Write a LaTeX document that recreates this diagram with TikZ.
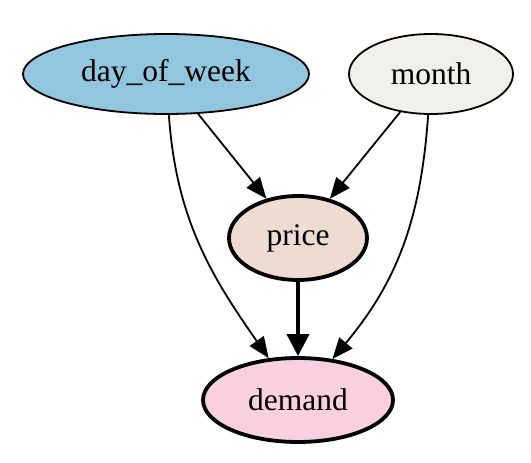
\documentclass[tikz,border=0pt]{standalone}
\usepackage{fontspec}
\setmainfont{Liberation Serif}
\usetikzlibrary{shapes.geometric,arrows.meta}

\definecolor{dowblue}{HTML}{92C5DE}
\definecolor{monthgrey}{HTML}{F0EFEB}
\definecolor{pricetan}{HTML}{EEDBD2}
\definecolor{demandpink}{HTML}{F9D0DF}

\tikzset{node:style/.style={draw,shape=ellipse,line width=1.8pt,inner sep=0pt,minimum height=80pt}}
\tikzset{node:bold/.style={node:style,line width=3.8pt,minimum height=84pt}}
\tikzset{edge:style/.style={draw,line width=1.8pt,-{Triangle[length=21pt,width=17pt]}}}
\tikzset{edge:bold/.style={draw,line width=3.8pt,-{Triangle[length=22pt,width=22pt]}}}
\def\nodetext{\fontsize{31.5}{37}\selectfont}

\begin{document}
\begin{tikzpicture}[x=1pt,y=-1pt]
	
	\useasboundingbox (0,0) rectangle (531,463);
	
	\path 
		(166,74) coordinate (cdow)
		(431,74) coordinate (cmonth)
		(298,238) coordinate (cprice)
		(298,400) coordinate (cdemand);
	
	\path (cdow) node[node:style,fill=dowblue,minimum width=286pt] (dow) {\nodetext day\_of\_week};
	\path (cmonth) node[node:style,fill=monthgrey,minimum width=164pt] (month) {\nodetext month};
	\path (cprice) node[node:bold,fill=pricetan,minimum width=138pt] (price) {\nodetext price};
	\path (cdemand) node[node:bold,fill=demandpink,minimum width=190pt] (demand) {\nodetext demand};
	
	\path[edge:style] (dow) -- (price);
	\path[edge:style] (month) -- (price);
	\path[edge:style] (dow) to[out=-86,in=125] (demand);
	\path[edge:style] (month) to[out=-94,in=50] (demand);
	\path[edge:bold] (price) -- (demand);
	
\end{tikzpicture}
\end{document}
